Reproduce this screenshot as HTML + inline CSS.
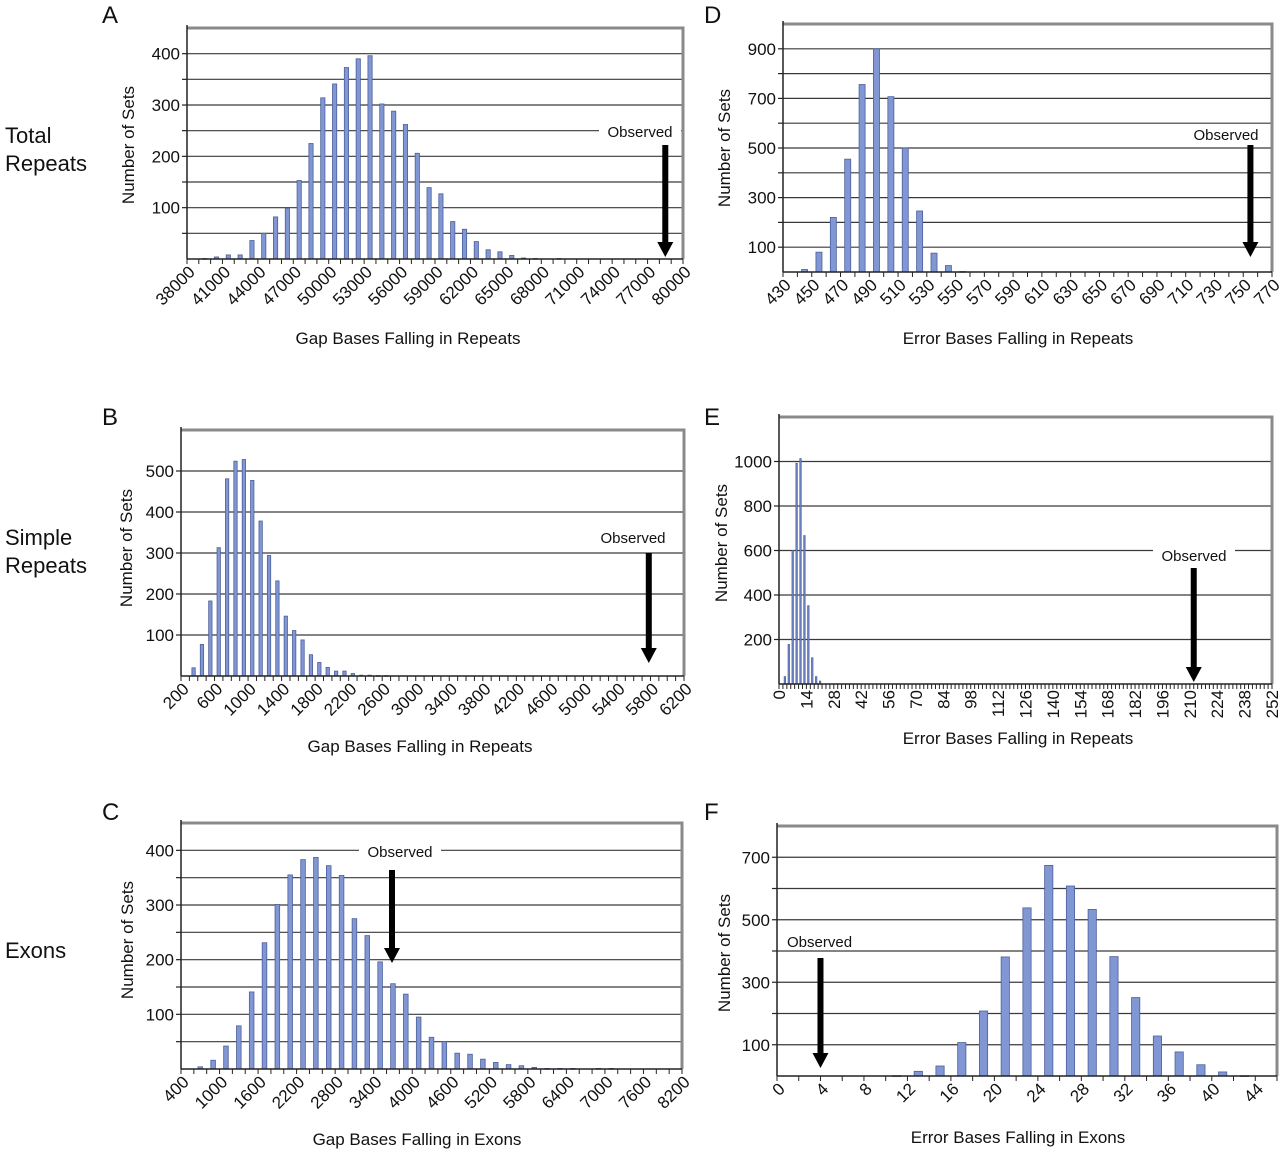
<!DOCTYPE html>
<html><head><meta charset="utf-8">
<style>
html,body{margin:0;padding:0;background:#fff;}
svg{display:block;font-family:"Liberation Sans",Arial,sans-serif;}
</style></head>
<body>
<svg id="fig" width="1280" height="1153" viewBox="0 0 1280 1153" xmlns="http://www.w3.org/2000/svg"></svg>
<script>
// ---- data ----
const aValues = [0,1,4,8,8,36,50,82,98,153,225,314,341,373,390,396,302,288,262,206,139,127,73,58,34,18,14,7,2,1,0,1,0,0,0,0,0,0,0,0,0,0];
const aTickLabels = [38000,41000,44000,47000,50000,53000,56000,59000,62000,65000,68000,71000,74000,77000,80000];
const aYLabels = [100,200,300,400];
const aObserved = 78500;

const dValues = [0,10,80,220,455,756,900,707,500,246,76,26,2,0,0,0,0,0,0,0,0,0,0,0,0,0,0,0,0,0,0,0,0,0];
const dTickLabels = [430,450,470,490,510,530,550,570,590,610,630,650,670,690,710,730,750,770];
const dYLabels = [100,300,500,700,900];
const dObserved = 755;

const bValues = [0,20,77,183,313,481,524,528,477,378,294,232,146,111,88,52,33,21,12,12,6,2,2,1,1,0,0,0,0,0,0,0,0,0,0,0,0,0,0,0,0,0,0,0,0,0,0,0,0,0,0,0,0,0,0,0,0,0,0,0];
const bTickLabels = [200,600,1000,1400,1800,2200,2600,3000,3400,3800,4200,4600,5000,5400,5800,6200];
const bYLabels = [100,200,300,400,500];
const bObserved = 5780;

const eValues = [0,33,178,600,992,1013,667,352,118,33,13];
const eTickLabels = [0,14,28,42,56,70,84,98,112,126,140,154,168,182,196,210,224,238,252];
const eYLabels = [200,400,600,800,1000];
const eObserved = 212;

const cValues = [0,4,16,42,79,141,231,301,355,383,387,372,354,275,244,196,156,137,95,58,50,29,27,18,12,8,6,3,1,1,1,0,1,1,0,0,0,0,0];
const cTickLabels = [400,1000,1600,2200,2800,3400,4000,4600,5200,5800,6400,7000,7600,8200];
const cYLabels = [100,200,300,400];
const cObserved = 3685;

const fValues = [0,0,0,0,0,1,15,32,107,208,381,538,674,608,533,382,251,128,77,36,13,1,0];
const fTickLabels = [0,4,8,12,16,20,24,28,32,36,40,44];
const fYLabels = [100,300,500,700];
const fObserved = 4;

// ---- drawing ----
const NS = "http://www.w3.org/2000/svg";
const svg = document.getElementById('fig');
function mk(tag, attrs, parent){
  const e = document.createElementNS(NS, tag);
  for (const k in attrs) e.setAttribute(k, attrs[k]);
  (parent||svg).appendChild(e);
  return e;
}
function txt(s, x, y, size, anchor, parent, rot){
  const t = mk('text', {x:x, y:y, 'font-size':size, 'text-anchor':anchor||'start', fill:'#111'}, parent);
  if (rot) t.setAttribute('transform', 'rotate(' + rot + ' ' + x + ' ' + y + ')');
  t.textContent = s;
  return t;
}

function panel(cfg){
  const g = mk('g', {});
  
  
  const xS = v => cfg.x0 + (v - cfg.xmin) / (cfg.xmax - cfg.xmin) * (cfg.x1 - cfg.x0);
  const yS = v => cfg.y0 - v / cfg.ymax * (cfg.y0 - cfg.top);
  for (let v = cfg.grid; v < cfg.ymax - 1e-9; v += cfg.grid){
    const l = mk('line', {x1:cfg.x0, x2:cfg.x1, y1:yS(v), y2:yS(v), stroke:'#3a3a3a', 'stroke-width':1.2}, g);
    
    
    mk('line', {x1:cfg.x0-5, x2:cfg.x0, y1:yS(v), y2:yS(v), stroke:'#222', 'stroke-width':1.2}, g);
  }
  const fr = mk('path', {d:'M'+cfg.x0+' '+cfg.top+' H'+cfg.x1+' V'+cfg.y0, fill:'none', stroke:'#8a8a8a', 'stroke-width':3}, g);
  
  
  const binW = cfg.bin;
  const pxBin = (cfg.x1 - cfg.x0) / ((cfg.xmax - cfg.xmin) / binW);
  const bw = pxBin * cfg.barFrac;
  cfg.values.forEach((v, i) => {
    if (v <= 0) return;
    const cx = xS(cfg.xmin + (i + 0.5) * binW);
    const yt = yS(v);
    const r = mk('rect', {x:cx - bw/2, y:yt, width:bw, height:Math.max(cfg.y0 - yt, 0.8), fill:'#8097d4', stroke:'#4d5f9c', 'stroke-width':0.8}, g);
    
    
  });
  mk('line', {x1:cfg.x0, x2:cfg.x0, y1:cfg.top-3, y2:cfg.y0, stroke:'#222', 'stroke-width':1.5}, g);
  mk('line', {x1:cfg.x0, x2:cfg.x1, y1:cfg.y0, y2:cfg.y0, stroke:'#222', 'stroke-width':1.5}, g);
  for (let v = cfg.xmin; v <= cfg.xmax + 1e-9; v += binW){
    mk('line', {x1:xS(v), x2:xS(v), y1:cfg.y0, y2:cfg.y0+5, stroke:'#222', 'stroke-width':1}, g);
  }
  cfg.tickLabels.forEach(v => {
    const x = xS(v);
    let t;
    if (cfg.vertLabels){
      t = txt(String(v), x + 6, cfg.y0 + 6, 17, 'end', g, -90);
    } else {
      t = txt(String(v), x + 9, cfg.y0 + 14, 17, 'end', g, -45);
    }
    
    
  });
  cfg.yLabels.forEach(v => {
    const t = txt(String(v), cfg.x0 - 7, yS(v) + 6, 17, 'end', g);
    
    
  });
  const xt = txt(cfg.xTitle, cfg.xTitlePos[0], cfg.xTitlePos[1], 17, 'middle', g);
  
  
  const yt = txt('Number of Sets', cfg.yTitlePos[0], cfg.yTitlePos[1], 17, 'middle', g, -90);
  
  
  const pl = txt(cfg.letter, cfg.letterPos[0], cfg.letterPos[1], 24, 'start', g);
  
  
  const ax = xS(cfg.observed);
  const ag = mk('g', {}, g);
  
  
  mk('rect', {x:ax-3, y:cfg.arrowTop, width:6, height:cfg.arrowTip - 14 - cfg.arrowTop, fill:'#000'}, ag);
  mk('path', {d:'M'+(ax-8)+' '+(cfg.arrowTip-15)+' H'+(ax+8)+' L'+ax+' '+cfg.arrowTip+' Z', fill:'#000'}, ag);
  const lw = 74;
  const lx = cfg.obsAnchor === 'start' ? cfg.obsLabel[0] : cfg.obsLabel[0] - lw/2;
  if (!cfg.noBg) mk('rect', {x:lx-4, y:cfg.obsLabel[1]-14, width:lw+8, height:19, fill:'#fff'}, ag);
  const ot = txt('Observed', cfg.obsLabel[0], cfg.obsLabel[1], 15, cfg.obsAnchor || 'middle', ag);
  
  
}

panel({name:'panel-a', values:aValues, tickLabels:aTickLabels, yLabels:aYLabels, observed:aObserved,
  xmin:38000, xmax:80000, bin:1000, x0:187, x1:683, y0:259, top:28, ymax:450, grid:50, barFrac:0.36,
  xTitle:'Gap Bases Falling in Repeats', xTitlePos:[408,344], yTitlePos:[134,145], letter:'A', letterPos:[102,23],
  arrowTop:145, arrowTip:257, obsLabel:[640,137]});
panel({name:'panel-d', values:dValues, tickLabels:dTickLabels, yLabels:dYLabels, observed:dObserved,
  xmin:430, xmax:770, bin:10, x0:783, x1:1272, y0:272, top:24, ymax:1000, grid:100, barFrac:0.42,
  xTitle:'Error Bases Falling in Repeats', xTitlePos:[1018,344], yTitlePos:[730,148], letter:'D', letterPos:[704,23],
  arrowTop:145, arrowTip:257, obsLabel:[1226,140]});
panel({name:'panel-b', values:bValues, tickLabels:bTickLabels, yLabels:bYLabels, observed:bObserved,
  xmin:200, xmax:6200, bin:100, x0:181, x1:684, y0:676, top:430, ymax:600, grid:100, barFrac:0.4,
  xTitle:'Gap Bases Falling in Repeats', xTitlePos:[420,752], yTitlePos:[132,548], letter:'B', letterPos:[102,425],
  arrowTop:553, arrowTip:663, obsLabel:[633,543]});
panel({name:'panel-e', values:eValues, tickLabels:eTickLabels, yLabels:eYLabels, observed:eObserved,
  xmin:0, xmax:252, bin:2, x0:779, x1:1272, y0:684, top:417, ymax:1200, grid:200, barFrac:0.35, vertLabels:true,
  xTitle:'Error Bases Falling in Repeats', xTitlePos:[1018,744], yTitlePos:[727,543], letter:'E', letterPos:[704,425],
  arrowTop:568, arrowTip:682, obsLabel:[1194,561]});
panel({name:'panel-c', values:cValues, tickLabels:cTickLabels, yLabels:cYLabels, observed:cObserved,
  xmin:400, xmax:8200, bin:200, x0:181, x1:682, y0:1069, top:823, ymax:450, grid:50, barFrac:0.36,
  xTitle:'Gap Bases Falling in Exons', xTitlePos:[417,1145], yTitlePos:[133,940], letter:'C', letterPos:[102,820],
  arrowTop:870, arrowTip:963, obsLabel:[400,857]});
panel({name:'panel-f', values:fValues, tickLabels:fTickLabels, yLabels:fYLabels, observed:fObserved,
  xmin:0, xmax:46, bin:2, x0:777, x1:1277, y0:1076, top:826, ymax:800, grid:100, barFrac:0.38,
  xTitle:'Error Bases Falling in Exons', xTitlePos:[1018,1143], yTitlePos:[730,953], letter:'F', letterPos:[704,820],
  arrowTop:958, arrowTip:1068, obsLabel:[787,947], obsAnchor:'start', noBg:true});

[['Total',5,143],['Repeats',5,171],['Simple',5,545],['Repeats',5,573],['Exons',5,958]].forEach(r => {
  const t = txt(r[0], r[1], r[2], 22, 'start');
  
  
});
</script>
</body></html>
